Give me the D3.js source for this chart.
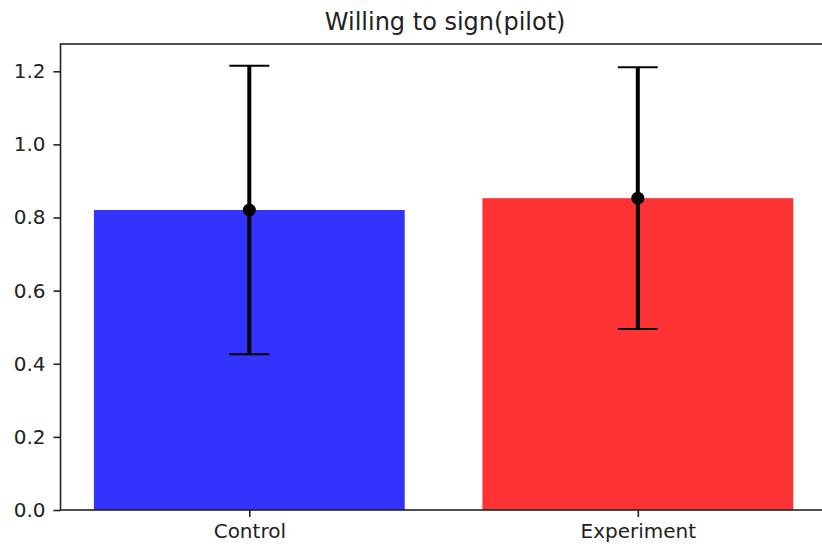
<!DOCTYPE html>
<html>
<head>
<meta charset="utf-8">
<script src="https://cdn.jsdelivr.net/npm/d3@7"></script>
<style>
  html, body { margin: 0; padding: 0; background: #fff; }
  svg { display: block; font-family: "DejaVu Sans", sans-serif; }
</style>
</head>
<body>
<svg id="chart" width="822" height="547"></svg>
<script>
// Group means with their error-bar half widths
const categories = ["Control", "Experiment"];
const means = [0.8206, 0.853];
const errors = [0.3947, 0.358];
const barColors = ["#3333ff", "#ff3333"];
const yTicks = [0.0, 0.2, 0.4, 0.6, 0.8, 1.0, 1.2];
const title = "Willing to sign(pilot)";

(function draw() {
  const svg = d3.select("#chart");
  const plotLeft = 60.5, plotTop = 44, plotBottom = 510;
  const unitPx = 388.5;                           // pixels per category step
  const plotRight = plotLeft + 1.98 * unitPx;     // axes extend past the viewport

  // category index -> x position
  const x = d3.scaleLinear().domain([-0.486, 1.494]).range([plotLeft, plotRight]);
  const y = d3.scaleLinear().domain([0, 1.2746]).range([plotBottom, plotTop]);
  const barWidth = 0.8;

  const data = categories.map((c, i) => ({ c, i, m: means[i], e: errors[i], col: barColors[i] }));

  // bars
  svg.append("g").selectAll("rect").data(data).join("rect")
    .attr("x", d => x(d.i - barWidth / 2))
    .attr("width", d => x(d.i + barWidth / 2) - x(d.i - barWidth / 2))
    .attr("y", d => y(d.m))
    .attr("height", d => y(0) - y(d.m))
    .attr("fill", d => d.col);

  // error bars
  const eb = svg.append("g").selectAll("g").data(data).join("g");
  eb.append("line")
    .attr("x1", d => x(d.i)).attr("x2", d => x(d.i))
    .attr("y1", d => y(d.m - d.e)).attr("y2", d => y(d.m + d.e))
    .attr("stroke", "#000").attr("stroke-width", 4);
  [-1, 1].forEach(s => {
    eb.append("line")
      .attr("x1", d => x(d.i) - 20).attr("x2", d => x(d.i) + 20)
      .attr("y1", d => y(d.m + s * d.e))
      .attr("y2", d => y(d.m + s * d.e))
      .attr("stroke", "#000").attr("stroke-width", 2);
  });
  eb.append("circle")
    .attr("cx", d => x(d.i)).attr("cy", d => y(d.m))
    .attr("r", 6.5).attr("fill", "#000");

  // axes
  const yAxis = d3.axisLeft(y).tickValues(yTicks).tickFormat(d3.format(".1f"))
    .tickSize(7).tickPadding(8);
  const gy = svg.append("g").attr("transform", `translate(${plotLeft},0)`).call(yAxis);
  gy.select(".domain").remove();
  gy.selectAll("text").attr("font-size", 20).attr("fill", "#222").attr("font-family", "DejaVu Sans");
  gy.selectAll("line").attr("stroke", "#222").attr("stroke-width", 1.6);

  const xAxis = d3.axisBottom(x).tickValues(data.map(d => d.i))
    .tickFormat(i => categories[i]).tickSize(7).tickPadding(7);
  const gx = svg.append("g").attr("transform", `translate(0,${plotBottom})`).call(xAxis);
  gx.select(".domain").remove();
  gx.selectAll("text").attr("font-size", 20).attr("fill", "#222").attr("font-family", "DejaVu Sans");
  gx.selectAll("line").attr("stroke", "#222").attr("stroke-width", 1.6);

  // spines
  svg.append("rect")
    .attr("x", plotLeft).attr("y", plotTop)
    .attr("width", plotRight - plotLeft).attr("height", plotBottom - plotTop)
    .attr("fill", "none").attr("stroke", "#222").attr("stroke-width", 1.6);

  // title
  svg.append("text")
    .attr("x", (plotLeft + plotRight) / 2).attr("y", 29.5)
    .attr("text-anchor", "middle")
    .attr("font-size", 24).attr("fill", "#222")
    .text(title);
})();
</script>
</body>
</html>
